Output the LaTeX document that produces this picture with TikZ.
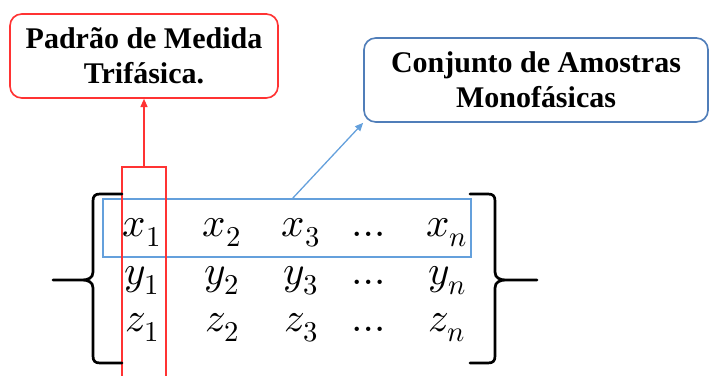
\documentclass[tikz,border=0pt]{standalone}
\usepackage{fontspec}
\usepackage{unicode-math}
\setmainfont{Liberation Serif}
\setmathfont{Latin Modern Math}
\usetikzlibrary{arrows.meta}

\definecolor{vermelho}{RGB}{255,51,51}
\definecolor{azul}{RGB}{100,160,220}
\definecolor{azulcaixa}{RGB}{80,126,185}

\tikzset{
    caixa/.style={draw, rounded corners=10pt, line width=1.4pt, align=center,
        font=\fontsize{25.6}{29.9}\selectfont\bfseries, inner sep=0pt},
    elem/.style={anchor=base, inner sep=0pt, font=\fontsize{35}{40}\selectfont},
    chave/.style={line width=2.3pt, line cap=round},
}

\begin{document}
\begin{tikzpicture}[x=0.03cm, y=-0.03cm]
    \clip (0,0) rectangle (711,376);

    % Boxes with the labels
    \node[caixa, vermelho, text=black, minimum width=8.04cm, minimum height=2.52cm]
        (padrao) at (144,56) {Padrão de Medida\\Trifásica.};
    \node[caixa, azulcaixa, text=black, minimum width=10.32cm, minimum height=2.52cm]
        (conjunto) at (536,80) {Conjunto de Amostras\\Monofásicas};

    % Entries of the matrix
    \foreach \v/\yy in {x/236,y/284,z/331} {
        \foreach \s/\xx in {1/142,2/222,3/301,n/447}
            \node[elem] (\v\s) at (\xx,\yy) {$\v_\s$};
        \node[elem] (\v dots) at (372,\yy) {$\dots$};
    }

    % Row and column frames
    \node[draw=azul, line width=1.1pt, minimum width=11.04cm, minimum height=1.74cm,
        inner sep=0pt] (linha) at (287,228) {};
    \node[draw=vermelho, line width=1.1pt, minimum width=1.32cm, minimum height=6.99cm,
        inner sep=0pt] (coluna) at (144,283.5) {};

    % Braces
    \draw[chave] (122,194) -- (100,194) .. controls (95,194) and (93,196) .. (93,201)
        -- (93,272) .. controls (93,278) and (88,280) .. (82,280) -- (53,280)
        (82,280) .. controls (88,280) and (93,282) .. (93,288)
        -- (93,356) .. controls (93,361) and (95,363) .. (100,363) -- (122,363);
    \draw[chave] (470,194) -- (488,194) .. controls (493,194) and (495,196) .. (495,201)
        -- (495,272) .. controls (495,278) and (500,280) .. (506,280) -- (537,280)
        (506,280) .. controls (500,280) and (495,282) .. (495,288)
        -- (495,356) .. controls (495,361) and (493,363) .. (488,363) -- (470,363);

    % Arrows to the boxes
    \coordinate (saida) at (292,199);
    \draw[vermelho, line width=1.1pt, -{Triangle[length=7pt,width=6pt]}]
        (coluna.north) -- (padrao.south);
    \draw[azul, line width=1.1pt, -{Triangle[length=7pt,width=6pt]}]
        (saida) -- (conjunto.south west);
\end{tikzpicture}
\end{document}
